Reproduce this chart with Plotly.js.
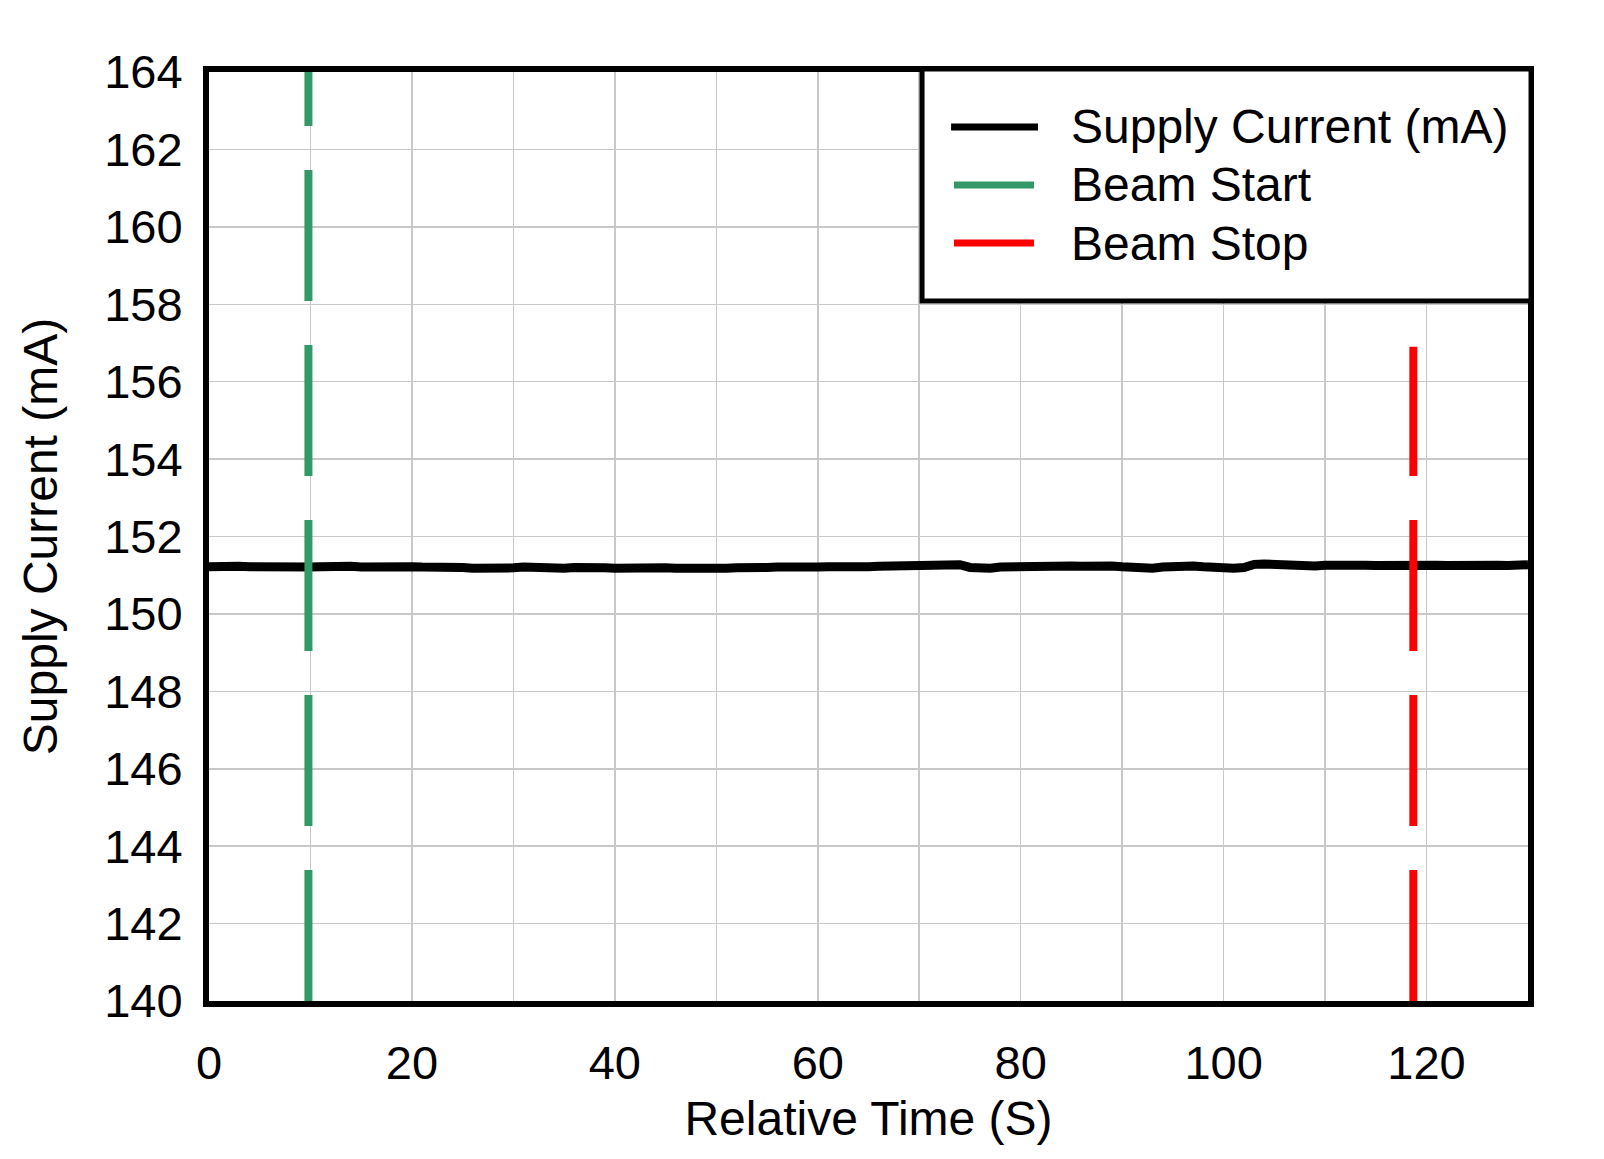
<!DOCTYPE html>
<html>
<head>
<meta charset="utf-8">
<script src="https://cdn.plot.ly/plotly-3.0.1.min.js"></script>
<style>
  html, body { margin: 0; padding: 0; background: #fff; }
  #chart { width: 1604px; height: 1159px; }
</style>
</head>
<body>
<div id="chart"></div>
<script>
(function () {
  "use strict";

  // relative time (s), one reading per second
  var TIME_S = [];
  for (var i = 0; i <= 130; i++) { TIME_S.push(i); }

  // supply current (mA)
  var SUPPLY_MA = [
    151.22, 151.24, 151.25, 151.23, 151.22, 151.21, 151.22, 151.20, 151.21,
    151.20, 151.21, 151.22, 151.24, 151.22, 151.23, 151.21,
    151.22, 151.21, 151.22, 151.23, 151.22, 151.21, 151.22, 151.23, 151.22, 151.20,
    151.18, 151.17, 151.18, 151.17, 151.19,
    151.21, 151.19, 151.18, 151.19, 151.18, 151.20, 151.21, 151.20, 151.19, 151.18,
    151.19, 151.21, 151.19, 151.18, 151.19, 151.18, 151.17, 151.18, 151.17, 151.18,
    151.18, 151.19, 151.18, 151.19, 151.20, 151.21, 151.20, 151.21, 151.22, 151.21,
    151.22, 151.21, 151.22, 151.23, 151.22, 151.23, 151.24, 151.25, 151.23, 151.22,
    151.23, 151.24, 151.26, 151.27, 151.20, 151.17, 151.18, 151.21, 151.22, 151.21,
    151.22, 151.23, 151.22, 151.23, 151.24, 151.23, 151.25, 151.26, 151.24, 151.22,
    151.20, 151.17, 151.18, 151.21, 151.23, 151.25, 151.24, 151.22, 151.20, 151.18,
    151.18, 151.20, 151.28, 151.29, 151.27, 151.25, 151.24, 151.23, 151.24, 151.26,
    151.27, 151.26, 151.25, 151.26, 151.25, 151.26, 151.25, 151.26, 151.25, 151.27,
    151.26, 151.25, 151.26, 151.27, 151.26, 151.27, 151.26, 151.25, 151.26, 151.27
  ];

  // beam markers: time (s) and the current span each marker covers (mA)
  var BEAM_START_X = [9.8, 9.8];
  var BEAM_START_Y = [140, 165];
  var BEAM_STOP_X = [118.7, 118.7];
  var BEAM_STOP_Y = [140, 156.9];

  var X_TICKS = [0, 20, 40, 60, 80, 100, 120];
  var Y_TICKS = [140, 142, 144, 146, 148, 150, 152, 154, 156, 158, 160, 162, 164];

  var FONT = "Liberation Sans, Arial, sans-serif";
  var GRID = "#c8c8c8";

  var traces = [
    {
      x: TIME_S, y: SUPPLY_MA, name: "Supply Current (mA)",
      type: "scatter", mode: "lines",
      line: { color: "#000000", width: 9 }
    },
    {
      x: BEAM_START_X, y: BEAM_START_Y, name: "Beam Start",
      type: "scatter", mode: "lines",
      line: { color: "#339966", width: 8, dash: "131px,44px" }
    },
    {
      x: BEAM_STOP_X, y: BEAM_STOP_Y, name: "Beam Stop",
      type: "scatter", mode: "lines",
      line: { color: "#ff0000", width: 8, dash: "131px,44px" }
    }
  ];

  // hand-built legend box (paper coords of the plot area); outer edges sit on the frame
  var LEG = { x0: 0.5406, y0: 0.7535, x1: 1.0023, y1: 1.0032, textX: 0.652, rows: [0.9408, 0.8784, 0.8159] };
  var shapes = [{
    type: "rect", xref: "paper", yref: "paper", x0: LEG.x0, x1: LEG.x1, y0: LEG.y0, y1: LEG.y1,
    fillcolor: "#fff", line: { color: "#000", width: 5 }, layer: "above"
  }];
  var annotations = [];
  traces.forEach(function (t, k) {
    var wide = k === 0;
    shapes.push({
      type: "line", xref: "paper", yref: "paper",
      x0: wide ? 0.5626 : 0.5648, x1: wide ? 0.6285 : 0.6255, y0: LEG.rows[k], y1: LEG.rows[k],
      line: { color: t.line.color, width: 7 }, layer: "above"
    });
    annotations.push({
      xref: "paper", yref: "paper", x: LEG.textX, y: LEG.rows[k], xanchor: "left", yanchor: "middle",
      text: t.name, showarrow: false, font: { size: 48, color: "#000" }
    });
  });

  var layout = {
    width: 1604, height: 1159,
    font: { family: FONT, color: "#000", size: 48 },
    margin: { l: 209, r: 76, t: 72, b: 158 },
    paper_bgcolor: "#fff", plot_bgcolor: "#fff",
    showlegend: false,
    xaxis: {
      range: [0, 130], tickvals: X_TICKS, ticks: "outside", ticklen: 16, tickcolor: "rgba(0,0,0,0)",
      showgrid: true, gridcolor: GRID, gridwidth: 1.5,
      minor: { dtick: 10, showgrid: true, gridcolor: GRID, gridwidth: 1.5 },
      showline: true, linecolor: "#000", linewidth: 6, mirror: true, zeroline: false,
      tickfont: { size: 47 },
      title: { text: "Relative Time (S)", font: { size: 48 }, standoff: 15 }
    },
    yaxis: {
      range: [140, 164], tickvals: Y_TICKS, ticks: "outside", ticklen: 11, tickcolor: "rgba(0,0,0,0)",
      showgrid: true, gridcolor: GRID, gridwidth: 1.5,
      showline: true, linecolor: "#000", linewidth: 6, mirror: true, zeroline: false,
      tickfont: { size: 47 },
      title: { text: "Supply Current (mA)", font: { size: 48 }, standoff: 33 }
    },
    shapes: shapes,
    annotations: annotations
  };

  Plotly.newPlot("chart", traces, layout, { displayModeBar: false, staticPlot: true });
})();
</script>
</body>
</html>
